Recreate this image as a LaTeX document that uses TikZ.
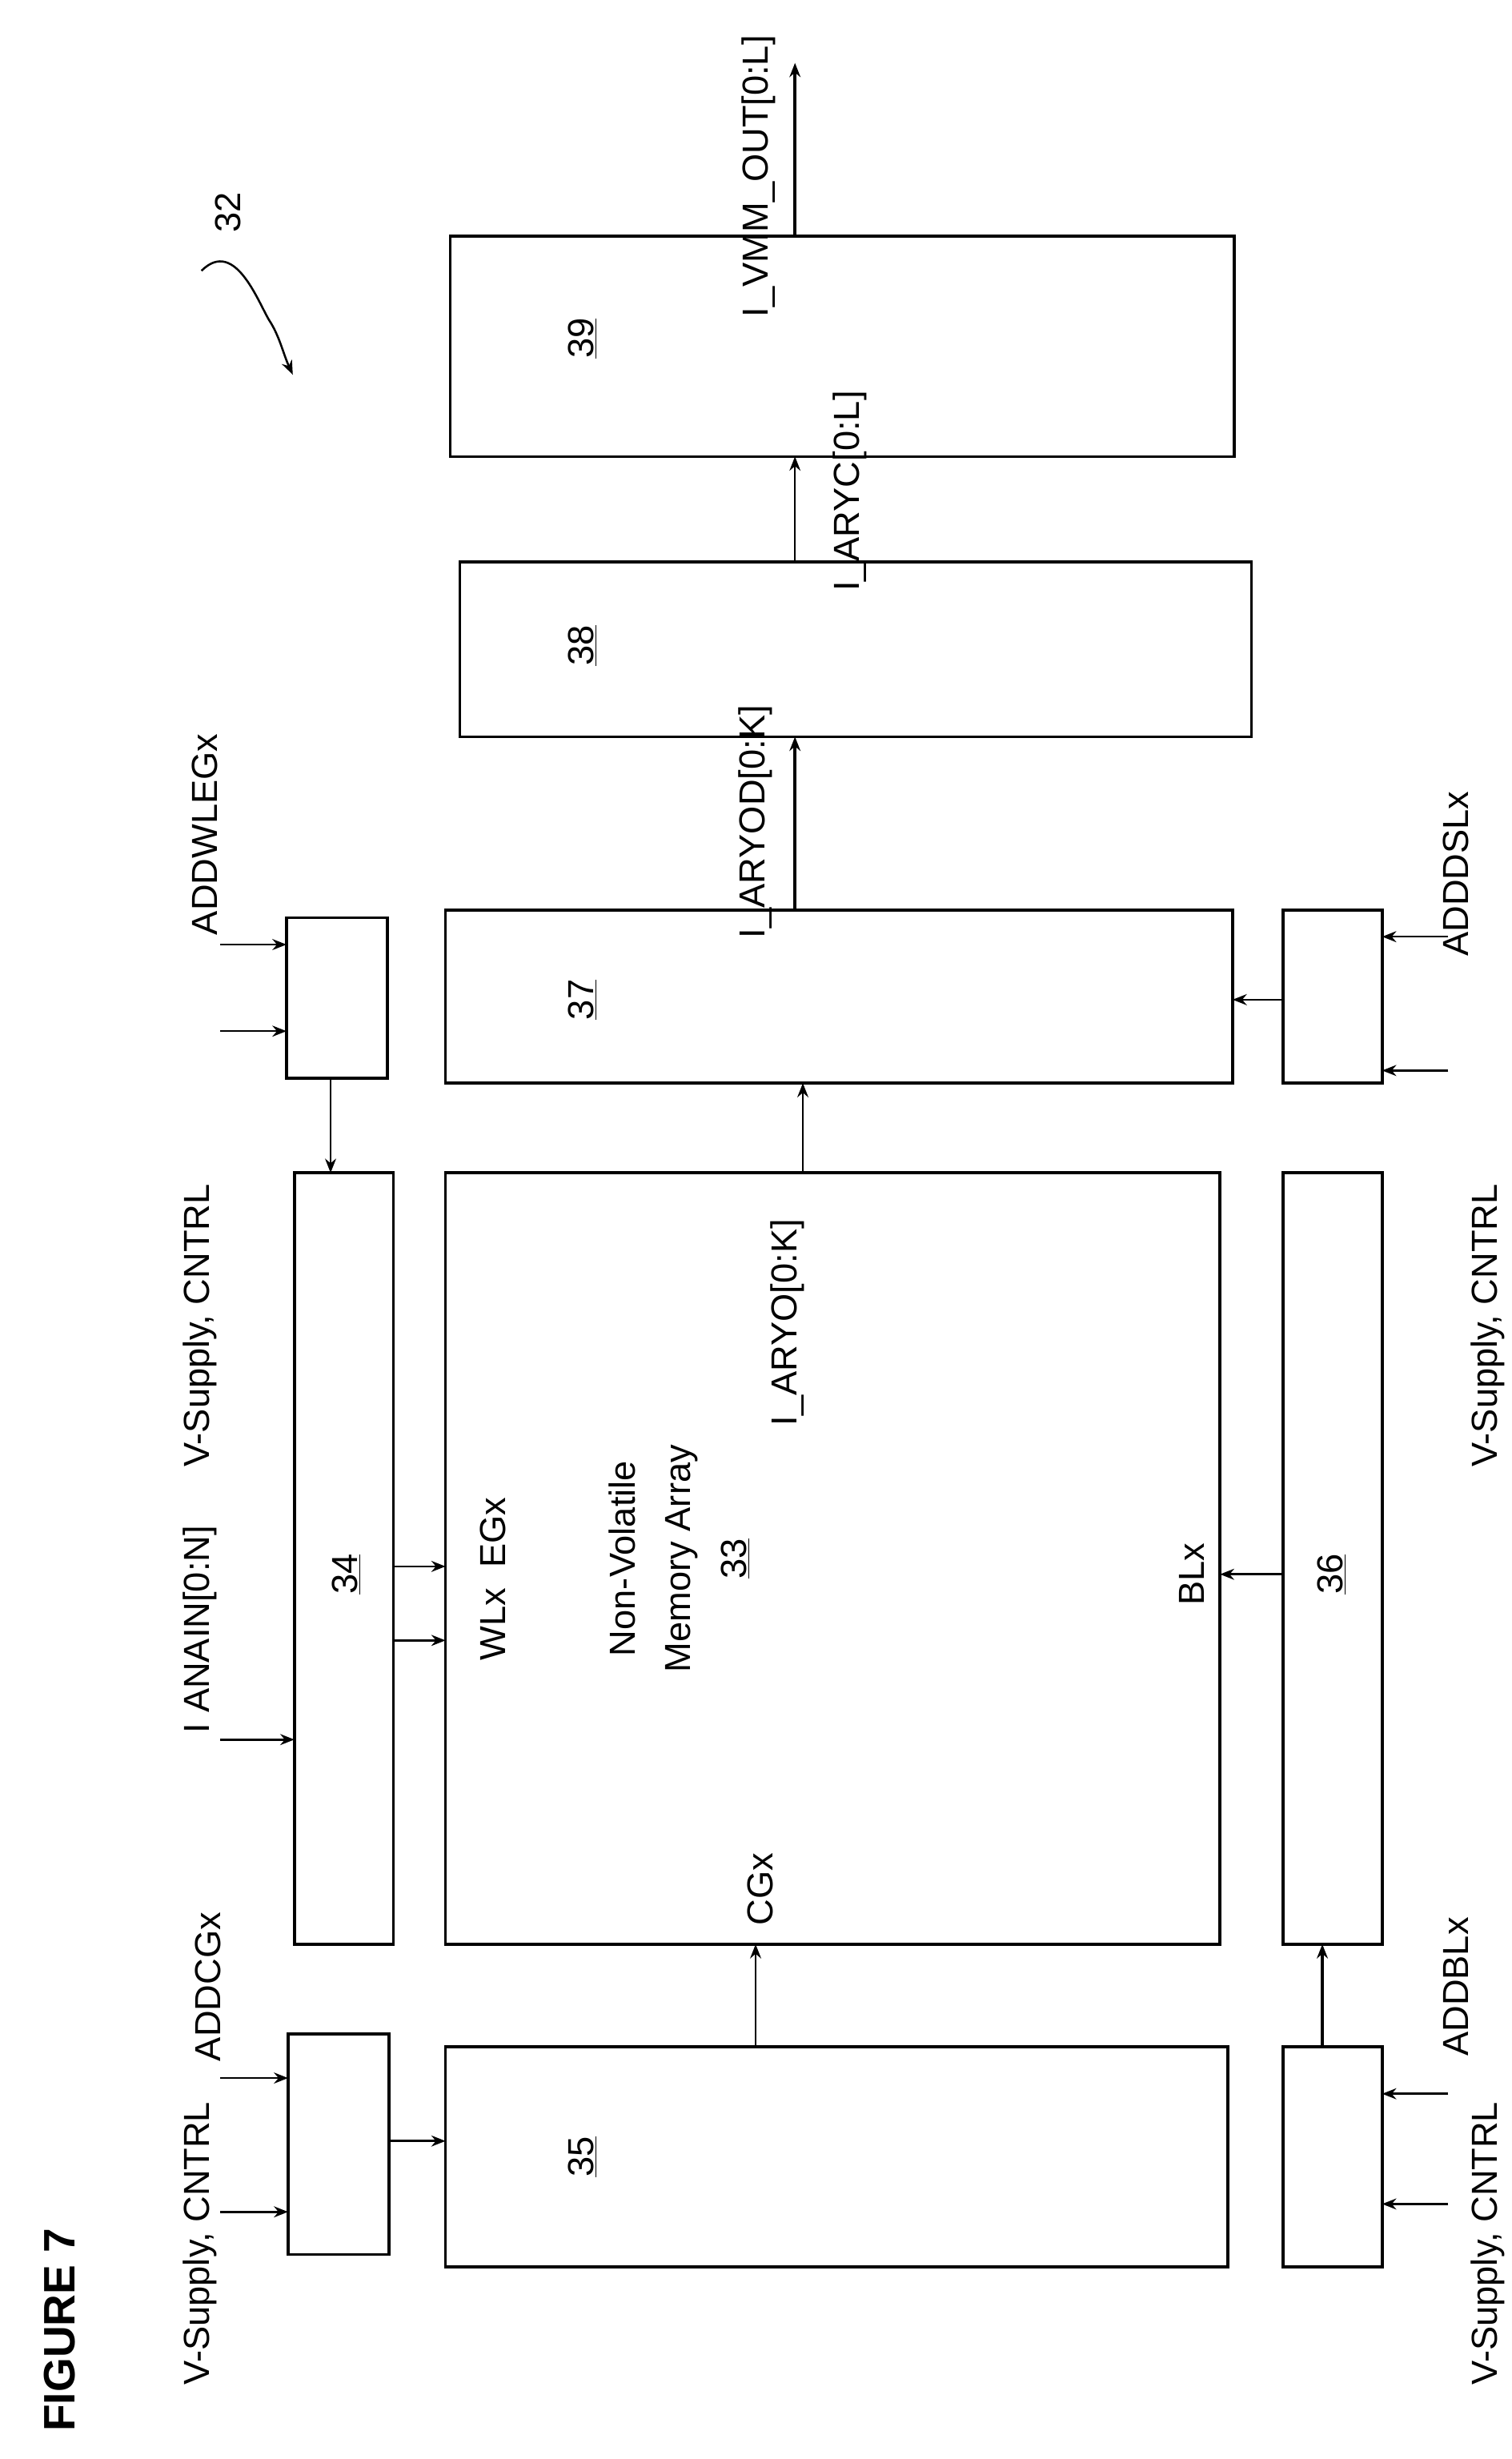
\documentclass[tikz,border=0pt]{standalone}
\usepackage{fontspec}
\setmainfont{Liberation Sans}
\usetikzlibrary{arrows.meta}
\begin{document}
\begin{tikzpicture}[x=1pt,y=-1pt,
 bx/.style={draw,line width=1.8pt},
 ar/.style={line width=1.3pt,-{Stealth[length=9pt,width=7pt]}},
 t/.style={rotate=90,font=\fontsize{23}{26}\selectfont,inner sep=0pt},
 num/.style={t}]
\useasboundingbox (0,0) rectangle (960,1562);
% boxes
\draw[bx] (283,1300) rectangle (780,1440);
\node[num] (n35) at (370,1370) {\underline{35}};
\draw[bx] (183,1292) rectangle (247,1432);
\draw[bx] (187,745) rectangle (250,1235);
\node[num] (n34) at (220,1000) {\underline{34}};
\draw[bx] (283,745) rectangle (775,1235);
\draw[bx] (815,745) rectangle (878,1235);
\node[num] (n36) at (846,1000) {\underline{36}};
\draw[bx] (815,1300) rectangle (878,1440);
\draw[bx] (182,583) rectangle (246,685);
\draw[bx] (283,578) rectangle (783,688);
\node[num] (n37) at (370,635) {\underline{37}};
\draw[bx] (815,578) rectangle (878,688);
\draw[bx] (292,357) rectangle (795,468);
\node[num] (n38) at (370,410) {\underline{38}};
\draw[bx] (286,150) rectangle (784,290);
\node[num] (n39) at (370,215) {\underline{39}};
% labels
\node[t] (vs1) at (127,1425) {V-Supply, CNTRL};
\node[t] (ac) at (132,1262) {ADDCGx};
\node[t] (ia) at (127,1035) {I ANAIN[0:N]};
\node[t] (vs2) at (127,842) {V-Supply, CNTRL};
\node[t] (aw) at (130,530) {ADDWLEGx};
\node[t] (vs3) at (945,1425) {V-Supply, CNTRL};
\node[t] (ab) at (925,1262) {ADDBLx};
\node[t] (vs4) at (945,842) {V-Supply, CNTRL};
\node[t] (ad) at (925,555) {ADDDSLx};
\node[t] (cg) at (483,1200) {CGx};
\node[t] (wl) at (313,1003) {WLx\ \ EGx};
\node[t] (nv1) at (395,990) {Non-Volatile};
\node[t] (nv2) at (433,990) {Memory Array};
\node[t] (nv3) at (467,990) {\underline{33}};
\node[t] (ay) at (500,840) {I\_ARYO[0:K]};
\node[t] (blx) at (757,1000) {BLx};
\node[t] (ayd) at (480,522) {I\_ARYOD[0:K]};
\node[t] (ayc) at (540,312) {I\_ARYC[0:L]};
\node[t] (vmm) at (482,112) {I\_VMM\_OUT[0:L]};
\node[t] (n32) at (145,135) {32};
\node[rotate=90,font=\bfseries\fontsize{28}{32}\selectfont] (fig) at (38,1480) {FIGURE 7};
% arrows
\draw[ar] (140,1405) -- (183,1405);
\draw[ar] (140,1320) -- (183,1320);
\draw[ar] (247,1360) -- (283,1360);
\draw[ar] (480,1300) -- (480,1235);
\draw[ar] (140,1105) -- (187,1105);
\draw[ar] (250,1042) -- (283,1042);
\draw[ar] (250,995) -- (283,995);
\draw[ar] (510,745) -- (510,688);
\draw[ar] (815,1000) -- (775,1000);
\draw[ar] (920,1400) -- (878,1400);
\draw[ar] (920,1330) -- (878,1330);
\draw[ar,line width=1.8pt] (840,1300) -- (840,1235);
\draw[ar] (140,655) -- (182,655);
\draw[ar] (140,600) -- (182,600);
\draw[ar] (210,685) -- (210,745);
\draw[ar] (920,680) -- (878,680);
\draw[ar] (920,595) -- (878,595);
\draw[ar] (815,635) -- (783,635);
\draw[ar,line width=1.8pt] (505,578) -- (505,468);
\draw[ar] (505,357) -- (505,290);
\draw[ar,line width=1.8pt] (505,150) -- (505,40);
\draw[ar] (128,172) .. controls (150,150) and (165,195) .. (172,205) .. controls (178,215) and (180,225) .. (186,238);
\end{tikzpicture}
\end{document}
